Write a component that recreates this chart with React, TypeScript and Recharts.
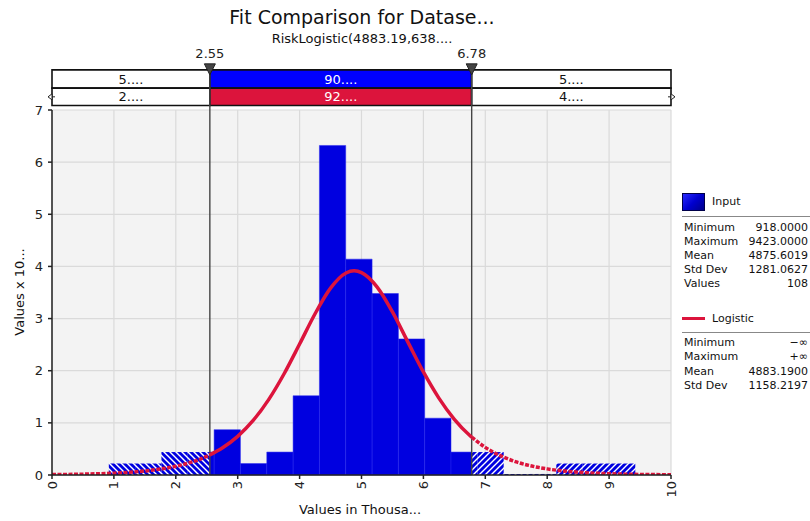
import React from 'react';
import {
  ComposedChart,
  XAxis,
  YAxis,
  CartesianGrid,
  Line,
  ReferenceArea,
  ReferenceLine,
  ReferenceDot,
} from 'recharts';

// ---------- DATA ----------
const binEdges = [
  0.918, 1.343, 1.768, 2.194, 2.619, 3.044, 3.47, 3.895, 4.32, 4.745, 5.171,
  5.596, 6.021, 6.446, 6.872, 7.297, 7.722, 8.147, 8.573, 8.998, 9.423,
];
const binHeights = [
  0.22, 0.22, 0.44, 0.44, 0.87, 0.22, 0.44, 1.52, 6.32, 4.14, 3.48, 2.61, 1.09,
  0.44, 0.44, 0.02, 0.02, 0.22, 0.22, 0.22,
];

const curveLeft = [
  { x: 0, y: 0.0075 }, { x: 0.5, y: 0.0164 }, { x: 1, y: 0.0356 },
  { x: 1.25, y: 0.0529 }, { x: 1.5, y: 0.0775 }, { x: 1.75, y: 0.1141 },
  { x: 2, y: 0.1676 }, { x: 2.25, y: 0.2455 }, { x: 2.5, y: 0.3576 },
  { x: 2.55, y: 0.3854 },
];
const curveMid = [
  { x: 2.55, y: 0.3854 }, { x: 2.75, y: 0.5175 }, { x: 3, y: 0.7408 },
  { x: 3.25, y: 1.0455 }, { x: 3.5, y: 1.4456 }, { x: 3.75, y: 1.942 },
  { x: 4, y: 2.511 }, { x: 4.25, y: 3.092 }, { x: 4.5, y: 3.583 },
  { x: 4.75, y: 3.873 }, { x: 4.88, y: 3.915 }, { x: 5, y: 3.882 },
  { x: 5.25, y: 3.609 }, { x: 5.5, y: 3.127 }, { x: 5.75, y: 2.549 },
  { x: 6, y: 1.976 }, { x: 6.25, y: 1.475 }, { x: 6.5, y: 1.068 },
  { x: 6.75, y: 0.7578 }, { x: 6.78, y: 0.7265 },
];
const curveRight = [
  { x: 6.78, y: 0.7265 }, { x: 7, y: 0.5296 }, { x: 7.25, y: 0.3664 },
  { x: 7.5, y: 0.2515 }, { x: 7.75, y: 0.1718 }, { x: 8, y: 0.1171 },
  { x: 8.5, y: 0.0539 }, { x: 9, y: 0.0248 }, { x: 9.5, y: 0.0113 },
  { x: 10, y: 0.0052 },
];

const xTicks = [0, 1, 2, 3, 4, 5, 6, 7, 8, 9, 10];
const yTicks = [0, 1, 2, 3, 4, 5, 6, 7];
const xDomain = [0, 10];
const yDomain = [0, 7];

const lowerCut = 2.55;
const upperCut = 6.78;
const cutLabels = ['2.55', '6.78'];
const bandInputLabels = ['5....', '90....', '5....'];
const bandFitLabels = ['2....', '92....', '4....'];

const titleText = 'Fit Comparison for Datase...';
const subtitleText = 'RiskLogistic(4883.19,638....';
const xAxisTitle = 'Values in Thousa...';
const yAxisTitle = 'Values x 10...';

const inputName = 'Input';
const inputStats = [
  ['Minimum', '918.0000'],
  ['Maximum', '9423.0000'],
  ['Mean', '4875.6019'],
  ['Std Dev', '1281.0627'],
  ['Values', '108'],
];
const fitName = 'Logistic';
const fitStats = [
  ['Minimum', '\u2212\u221e'],
  ['Maximum', '+\u221e'],
  ['Mean', '4883.1900'],
  ['Std Dev', '1158.2197'],
];

// ---------- STYLE ----------
const FONT = "'DejaVu Sans', Verdana, sans-serif";
const BAR_BLUE = '#0000E0';
const BAND_BLUE = '#0000FF';
const RED = '#DC143C';
const BAND_ROW1_TOP = 7.77;
const BAND_ROW_MID = 7.42;
const BAND_ROW2_BOTTOM = 7.085;

// split histogram bins at the cut points
type Seg = { x1: number; x2: number; h: number; kind: 'L' | 'M' | 'R' };
const segments: Seg[] = [];
binHeights.forEach((h, i) => {
  const a = binEdges[i];
  const b = binEdges[i + 1];
  const pieces: [number, number][] = [];
  const cuts = [a, ...[lowerCut, upperCut].filter((c) => c > a && c < b), b];
  for (let k = 0; k < cuts.length - 1; k++) pieces.push([cuts[k], cuts[k + 1]]);
  pieces.forEach(([p, q]) => {
    const mid = (p + q) / 2;
    const kind = mid < lowerCut ? 'L' : mid > upperCut ? 'R' : 'M';
    segments.push({ x1: p, x2: q, h, kind });
  });
});

const XTick = (props: any) => {
  const { x, y, payload } = props;
  return (
    <text
      x={x}
      y={y}
      transform={`rotate(-90, ${x}, ${y})`}
      textAnchor="end"
      dominantBaseline="central"
      fontSize={13}
      fontFamily={FONT}
      fill="#222"
    >
      {payload.value}
    </text>
  );
};

const CutMarker = (label: string) => (props: any) => {
  const { cx, cy } = props;
  return (
    <g>
      <polygon
        points={`${cx - 5.5},${cy - 6} ${cx + 5.5},${cy - 6} ${cx},${cy + 5}`}
        fill="#444"
        stroke="#222"
        strokeWidth={1}
      />
      <text x={cx} y={cy - 12} textAnchor="middle" fontSize={13} fontFamily={FONT} fill="#222">
        {label}
      </text>
    </g>
  );
};

const EndArrow = (dir: number) => (props: any) => {
  const { cx, cy } = props;
  return (
    <g>
      <line x1={cx} y1={cy} x2={cx + dir * 3} y2={cy} stroke="#222" strokeWidth={1} />
      <polygon
        points={`${cx - dir * 4},${cy} ${cx},${cy - 3} ${cx},${cy + 3}`}
        fill="#fff"
        stroke="#222"
        strokeWidth={1}
      />
    </g>
  );
};

const bandSegs = [
  { x1: xDomain[0], x2: lowerCut, i: 0 },
  { x1: lowerCut, x2: upperCut, i: 1 },
  { x1: upperCut, x2: xDomain[1], i: 2 },
];

export default function App() {
  return (
    <div style={{ position: 'absolute', left: 0, top: 0, width: 810, height: 521, background: '#fff', fontFamily: FONT }}>
      <div style={{ position: 'absolute', left: 0, width: 724, top: 5, textAlign: 'center', fontSize: 19, color: '#111', lineHeight: '24px' }}>
        {titleText}
      </div>
      <div style={{ position: 'absolute', left: 0, width: 724, top: 31, textAlign: 'center', fontSize: 13, color: '#111', lineHeight: '16px' }}>
        {subtitleText}
      </div>
      <div style={{ position: 'absolute', left: 0, width: 720, top: 502, textAlign: 'center', fontSize: 13, color: '#111', lineHeight: '16px' }}>
        {xAxisTitle}
      </div>
      <div
        style={{
          position: 'absolute', left: 19, top: 292, width: 0, height: 0,
        }}
      >
        <div style={{ position: 'absolute', transform: 'translate(-50%, -50%) rotate(-90deg)', whiteSpace: 'nowrap', fontSize: 13, color: '#111', left: 0, top: 0 }}>
          {yAxisTitle}
        </div>
      </div>

      <ComposedChart
        width={810}
        height={521}
        data={[]}
        margin={{ top: 110, right: 139, bottom: 0, left: 0 }}
        style={{ position: 'absolute', left: 0, top: 0 }}
      >
        <defs>
          <pattern id="hatchL" patternUnits="userSpaceOnUse" width="6" height="6">
            <rect width="6" height="6" fill={BAR_BLUE} />
            <path d="M-1,-1 L7,7 M-4,2 L1,7 M5,-1 L8,2" stroke="#fff" strokeWidth="1.4" />
          </pattern>
          <pattern id="hatchR" patternUnits="userSpaceOnUse" width="6" height="6">
            <rect width="6" height="6" fill={BAR_BLUE} />
            <path d="M-1,7 L7,-1 M-4,4 L1,-1 M5,7 L8,4" stroke="#fff" strokeWidth="1.4" />
          </pattern>
        </defs>
        <CartesianGrid fill="#F3F3F3" stroke="#DADADA" strokeWidth={1.2} horizontalValues={yTicks} verticalValues={xTicks} />
        <XAxis
          type="number"
          dataKey="x"
          domain={xDomain}
          ticks={xTicks}
          allowDataOverflow
          height={46}
          tickSize={4}
          tickMargin={2}
          tick={<XTick />}
          stroke="#222"
          strokeWidth={1.5}
          interval={0}
        />
        <YAxis
          type="number"
          domain={yDomain}
          ticks={yTicks}
          allowDataOverflow
          width={52}
          tickSize={4}
          tickMargin={5}
          tick={{ fontSize: 13, fontFamily: FONT, fill: '#222' }}
          stroke="#222"
          strokeWidth={1.5}
          interval={0}
        />

        {segments.map((s, i) => (
          <ReferenceArea
            key={'bar' + i}
            x1={s.x1}
            x2={s.x2}
            y1={0}
            y2={s.h}
            fill={s.kind === 'L' ? 'url(#hatchL)' : s.kind === 'R' ? 'url(#hatchR)' : BAR_BLUE}
            fillOpacity={1}
            stroke={s.kind === 'M' ? '#2626ee' : 'none'}
            strokeWidth={0.5}
            ifOverflow="visible"
          />
        ))}

        {/* top band */}
        {bandSegs.map((b) => (
          <ReferenceArea
            key={'r1' + b.i}
            x1={b.x1}
            x2={b.x2}
            y1={BAND_ROW_MID}
            y2={BAND_ROW1_TOP}
            fill={b.i === 1 ? BAND_BLUE : '#fff'}
            fillOpacity={1}
            stroke="#111"
            strokeWidth={1.6}
            ifOverflow="visible"
            label={{ value: bandInputLabels[b.i], position: 'center', fill: b.i === 1 ? '#fff' : '#111', fontSize: 13, fontFamily: FONT }}
          />
        ))}
        {bandSegs.map((b) => (
          <ReferenceArea
            key={'r2' + b.i}
            x1={b.x1}
            x2={b.x2}
            y1={BAND_ROW2_BOTTOM}
            y2={BAND_ROW_MID}
            fill={b.i === 1 ? RED : '#fff'}
            fillOpacity={1}
            stroke="#111"
            strokeWidth={1.6}
            ifOverflow="visible"
            label={{ value: bandFitLabels[b.i], position: 'center', fill: b.i === 1 ? '#fff' : '#111', fontSize: 13, fontFamily: FONT }}
          />
        ))}

        <ReferenceLine
          segment={[{ x: lowerCut, y: 0 }, { x: lowerCut, y: BAND_ROW1_TOP }]}
          stroke="#444"
          strokeWidth={1.4}
          ifOverflow="visible"
        />
        <ReferenceLine
          segment={[{ x: upperCut, y: 0 }, { x: upperCut, y: BAND_ROW1_TOP }]}
          stroke="#444"
          strokeWidth={1.4}
          ifOverflow="visible"
        />

        <Line data={curveLeft} dataKey="y" type="monotone" stroke={RED} strokeWidth={3.5} strokeDasharray="4 1.5" dot={false} isAnimationActive={false} />
        <Line data={curveRight} dataKey="y" type="monotone" stroke={RED} strokeWidth={3.5} strokeDasharray="4 1.5" dot={false} isAnimationActive={false} />
        <Line data={curveMid} dataKey="y" type="monotone" stroke={RED} strokeWidth={3.5} dot={false} isAnimationActive={false} />

        <ReferenceDot x={lowerCut} y={BAND_ROW1_TOP} ifOverflow="visible" shape={CutMarker(cutLabels[0])} />
        <ReferenceDot x={upperCut} y={BAND_ROW1_TOP} ifOverflow="visible" shape={CutMarker(cutLabels[1])} />
        <ReferenceDot x={xDomain[0]} y={(BAND_ROW_MID + BAND_ROW2_BOTTOM) / 2} ifOverflow="visible" shape={EndArrow(1)} />
        <ReferenceDot x={xDomain[1]} y={(BAND_ROW_MID + BAND_ROW2_BOTTOM) / 2} ifOverflow="visible" shape={EndArrow(-1)} />
      </ComposedChart>

      {/* legend panel */}
      <div style={{ position: 'absolute', left: 682, top: 193, width: 21, height: 16, border: '1px solid #00004a', background: 'linear-gradient(135deg, #2a2aff 0%, #0000d0 50%, #00008a 100%)' }} />
      <div style={{ position: 'absolute', left: 712, top: 194, fontSize: 11, lineHeight: '16px', color: '#111' }}>{inputName}</div>
      <div style={{ position: 'absolute', left: 682, top: 216, width: 128, height: 1, background: '#888' }} />
      {inputStats.map((r, i) => (
        <div key={'is' + i} style={{ position: 'absolute', left: 684, width: 124, top: 220 + i * 14.1, fontSize: 11, lineHeight: '16px', color: '#111', display: 'flex', justifyContent: 'space-between' }}>
          <span>{r[0]}</span>
          <span>{r[1]}</span>
        </div>
      ))}
      <div style={{ position: 'absolute', left: 682, top: 317, width: 23, height: 3, background: RED }} />
      <div style={{ position: 'absolute', left: 712, top: 311, fontSize: 11, lineHeight: '16px', color: '#111' }}>{fitName}</div>
      <div style={{ position: 'absolute', left: 682, top: 332, width: 128, height: 1, background: '#888' }} />
      {fitStats.map((r, i) => (
        <div key={'fs' + i} style={{ position: 'absolute', left: 684, width: 124, top: 335 + i * 14.3, fontSize: 11, lineHeight: '16px', color: '#111', display: 'flex', justifyContent: 'space-between' }}>
          <span>{r[0]}</span>
          <span>{r[1]}</span>
        </div>
      ))}
    </div>
  );
}
